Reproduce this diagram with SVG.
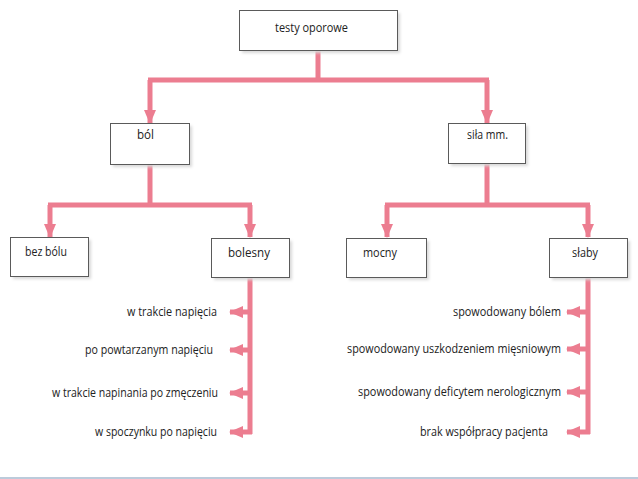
<svg xmlns="http://www.w3.org/2000/svg" width="638" height="479" viewBox="0 0 638 479">
<defs>
<marker id="ah" markerUnits="userSpaceOnUse" markerWidth="14" markerHeight="14" viewBox="0 0 14 14" refX="13" refY="7" orient="auto">
<path d="M0,1 L14,7 L0,13 Z" fill="#ec7d90"/>
</marker>
<filter id="sh" x="-10%" y="-10%" width="130%" height="140%">
<feGaussianBlur stdDeviation="1.5"/>
</filter>
</defs>
<style>
.box rect.b{fill:#fff;stroke:#5a5a5a;stroke-width:1}
.box rect.s{fill:#d8d8d8;filter:url(#sh)}
text{font-family:"Open Sans","Liberation Sans",sans-serif;font-size:13px;fill:#222}
.c{fill:none;stroke:#ec7d90;stroke-width:5}
</style>
<rect width="638" height="479" fill="#fff"/>
<g id="connectors">
<path class="c" d="M318,50 V80 M148,80 H489"/>
<path class="c" d="M150,80 V123" marker-end="url(#ah)"/>
<path class="c" d="M487,80 V123" marker-end="url(#ah)"/>
<path class="c" d="M150,164 V205 M48,205 H252"/>
<path class="c" d="M50,205 V237" marker-end="url(#ah)"/>
<path class="c" d="M250,205 V237" marker-end="url(#ah)"/>
<path class="c" d="M487,163 V205 M385,205 H590"/>
<path class="c" d="M387,205 V237" marker-end="url(#ah)"/>
<path class="c" d="M588,205 V237" marker-end="url(#ah)"/>
<path class="c" d="M250,277 V434"/>
<path class="c" d="M252,312 H230" marker-end="url(#ah)"/>
<path class="c" d="M252,350 H230" marker-end="url(#ah)"/>
<path class="c" d="M252,393 H230" marker-end="url(#ah)"/>
<path class="c" d="M252,432 H230" marker-end="url(#ah)"/>
<path class="c" d="M588,277 V434"/>
<path class="c" d="M590,312 H567" marker-end="url(#ah)"/>
<path class="c" d="M590,349 H567" marker-end="url(#ah)"/>
<path class="c" d="M590,392 H567" marker-end="url(#ah)"/>
<path class="c" d="M590,432 H567" marker-end="url(#ah)"/>
</g>
<g id="n-testy" class="box"><rect class="s" x="242" y="13" width="158" height="40"/><rect class="b" x="239.5" y="10.5" width="158" height="40"/><text x="275" y="32" textLength="73" lengthAdjust="spacingAndGlyphs">testy oporowe</text></g>
<g id="n-bol" class="box"><rect class="s" x="113" y="126" width="79" height="41"/><rect class="b" x="110.5" y="123.5" width="79" height="41"/><text x="137" y="139" textLength="17" lengthAdjust="spacingAndGlyphs">ból</text></g>
<g id="n-sila" class="box"><rect class="s" x="451" y="126" width="77" height="40"/><rect class="b" x="448.5" y="123.5" width="77" height="40"/><text x="467" y="139" textLength="41" lengthAdjust="spacingAndGlyphs">siła mm.</text></g>
<g id="n-bezbolu" class="box"><rect class="s" x="13" y="240" width="78" height="39"/><rect class="b" x="10.5" y="237.5" width="78" height="39"/><text x="25" y="256" textLength="42" lengthAdjust="spacingAndGlyphs">bez bólu</text></g>
<g id="n-bolesny" class="box"><rect class="s" x="214" y="241" width="78" height="39"/><rect class="b" x="211.5" y="238.5" width="78" height="39"/><text x="228" y="257" textLength="42" lengthAdjust="spacingAndGlyphs">bolesny</text></g>
<g id="n-mocny" class="box"><rect class="s" x="349" y="241" width="80" height="39"/><rect class="b" x="346.5" y="238.5" width="80" height="39"/><text x="363" y="257" textLength="34" lengthAdjust="spacingAndGlyphs">mocny</text></g>
<g id="n-slaby" class="box"><rect class="s" x="552" y="241" width="78" height="39"/><rect class="b" x="549.5" y="238.5" width="78" height="39"/><text x="572" y="257" textLength="26" lengthAdjust="spacingAndGlyphs">słaby</text></g>
<g id="l-left">
<text x="217" y="316" text-anchor="end" textLength="90" lengthAdjust="spacingAndGlyphs">w trakcie napięcia</text>
<text x="213" y="354" text-anchor="end" textLength="128" lengthAdjust="spacingAndGlyphs">po powtarzanym napięciu</text>
<text x="218" y="397" text-anchor="end" textLength="166" lengthAdjust="spacingAndGlyphs">w trakcie napinania po zmęczeniu</text>
<text x="217" y="436" text-anchor="end" textLength="122" lengthAdjust="spacingAndGlyphs">w spoczynku po napięciu</text>
</g>
<g id="l-right">
<text x="561" y="316" text-anchor="end" textLength="108" lengthAdjust="spacingAndGlyphs">spowodowany bólem</text>
<text x="561" y="353" text-anchor="end" textLength="214" lengthAdjust="spacingAndGlyphs">spowodowany uszkodzeniem mięsniowym</text>
<text x="561" y="396" text-anchor="end" textLength="203" lengthAdjust="spacingAndGlyphs">spowodowany deficytem nerologicznym</text>
<text x="548" y="436" text-anchor="end" textLength="128" lengthAdjust="spacingAndGlyphs">brak współpracy pacjenta</text>
</g>
<rect x="0" y="477" width="638" height="2" fill="#bccbdb"/>
</svg>
